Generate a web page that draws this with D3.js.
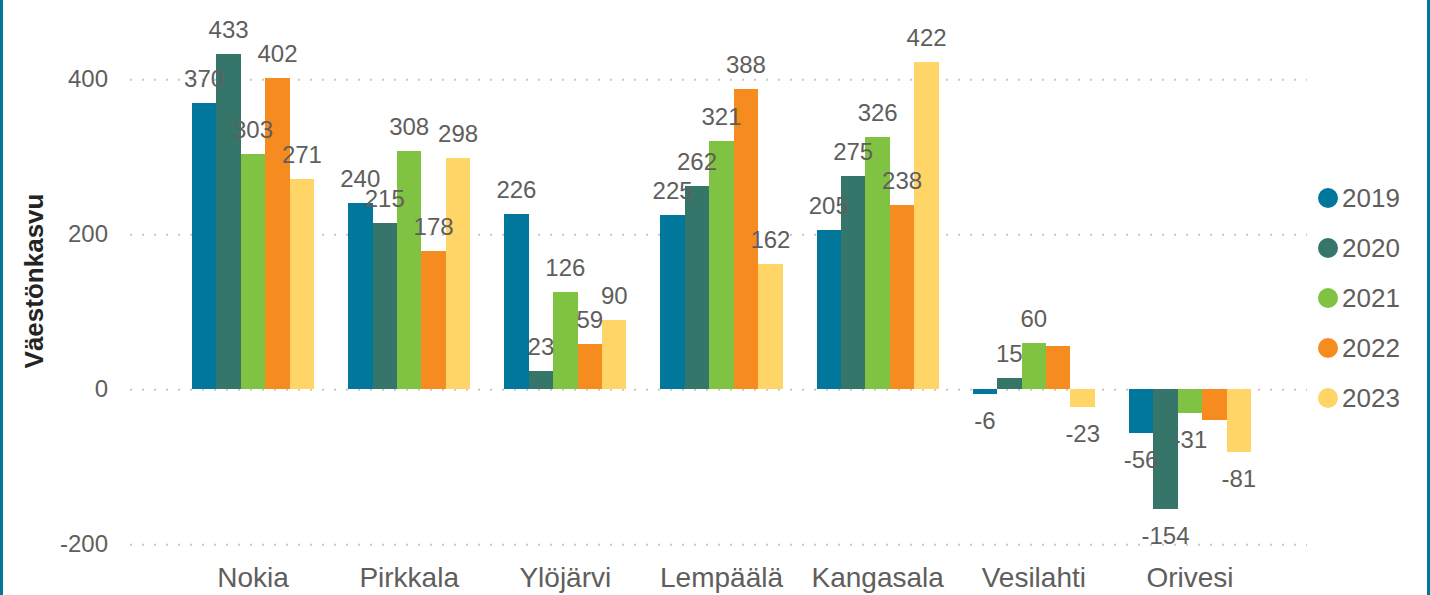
<!DOCTYPE html>
<meta charset="utf-8">
<style>
body { margin: 0; background: #fff; }
svg { display: block; font-family: "Liberation Sans", Arial, sans-serif; }
.grid line { stroke: #c8c8c8; stroke-width: 2px; stroke-dasharray: 2,10; }
.grid .domain { display: none; }
.yaxis text { font-size: 24px; fill: #605e5c; }
.xaxis text { font-size: 28px; fill: #605e5c; }
.label { font-size: 24px; fill: #605e5c; text-anchor: middle; }
.legend text { font-size: 26px; fill: #605e5c; }
.bars rect { shape-rendering: crispEdges; }
</style>
<svg width="1430" height="595"></svg>
<script src="https://d3js.org/d3.v7.min.js"></script>
<script>

// data
var categories = ["Nokia", "Pirkkala", "Ylöjärvi", "Lempäälä", "Kangasala", "Vesilahti", "Orivesi"];
var years = ["2019", "2020", "2021", "2022", "2023"];
var v2019 = [370, 240, 226, 225, 205, -6, -56];
var v2020 = [433, 215, 23, 262, 275, 15, -154];
var v2021 = [303, 308, 126, 321, 326, 60, -31];
var v2022 = [402, 178, 59, 388, 238, 56, -40];
var v2023 = [271, 298, 90, 162, 422, -23, -81];
var yTicks = [-200, 0, 200, 400];
var colors = ["#00779b", "#35756a", "#80c242", "#f68c1f", "#ffd568"];
// labels not shown in the original (overlap)
var hiddenLabels = ["Vesilahti|2022", "Orivesi|2022"];

var series = [v2019, v2020, v2021, v2022, v2023];

var svg = d3.select("svg"),
    width = +svg.attr("width"),
    height = +svg.attr("height");

var gridLeft = 130, gridRight = 1307;

var x = d3.scaleBand()
    .domain(categories)
    .range([158, 1285])
    .paddingInner(0.217)
    .paddingOuter(0.217);

var x1 = d3.scaleBand()
    .domain(years)
    .range([0, x.bandwidth()]);

var y = d3.scaleLinear()
    .domain([-200, 400])
    .range([544.3, 79.3]);

var color = d3.scaleOrdinal().domain(years).range(colors);

// frame strips left / right
svg.append("rect").attr("x", 0).attr("y", 0).attr("width", 3).attr("height", height).attr("fill", "#00779b");
svg.append("rect").attr("x", width - 3).attr("y", 0).attr("width", 3).attr("height", height).attr("fill", "#00779b");

// gridlines
svg.append("g")
    .attr("class", "grid")
    .attr("transform", "translate(" + gridLeft + ",0)")
    .call(d3.axisLeft(y).tickValues(yTicks).tickSize(-(gridRight - gridLeft)).tickFormat(""));

// y tick labels
var yAxis = svg.append("g")
    .attr("class", "yaxis")
    .attr("transform", "translate(" + gridLeft + ",0)")
    .call(d3.axisLeft(y).tickValues(yTicks).tickSize(0).tickPadding(22).tickFormat(function(d) { return String(d); }));
yAxis.select(".domain").remove();
yAxis.selectAll("text").attr("font-family", null).attr("font-size", null);

// x labels
var xAxis = svg.append("g")
    .attr("class", "xaxis")
    .attr("transform", "translate(0,544)")
    .call(d3.axisBottom(x).tickSize(0).tickPadding(23));
xAxis.select(".domain").remove();
xAxis.selectAll("text").attr("font-family", null).attr("font-size", null);

// rows: one per category/year
var rows = [];
categories.forEach(function(c, i) {
  years.forEach(function(yr, j) {
    rows.push({cat: c, year: yr, value: series[j][i]});
  });
});

svg.append("g")
    .attr("class", "bars")
  .selectAll("rect")
  .data(rows)
  .enter().append("rect")
    .attr("x", function(d) { return x(d.cat) + x1(d.year); })
    .attr("y", function(d) { return y(Math.max(0, d.value)); })
    .attr("width", x1.bandwidth())
    .attr("height", function(d) { return Math.abs(y(d.value) - y(0)); })
    .attr("fill", function(d) { return color(d.year); });

svg.append("g").selectAll("text")
  .data(rows.filter(function(d) { return hiddenLabels.indexOf(d.cat + "|" + d.year) < 0; }))
  .enter().append("text")
    .attr("class", "label")
    .attr("x", function(d) { return x(d.cat) + x1(d.year) + x1.bandwidth() / 2; })
    .attr("y", function(d) { return d.value >= 0 ? y(d.value) - 16 : y(d.value) + 35; })
    .text(function(d) { return d.value; });

// y title
svg.append("text")
    .attr("transform", "translate(43,281) rotate(-90)")
    .attr("text-anchor", "middle")
    .attr("font-size", 26)
    .attr("font-weight", "bold")
    .attr("fill", "#252423")
    .text("Väestönkasvu");

// legend
var legend = svg.append("g")
    .attr("class", "legend")
  .selectAll("g")
  .data(years)
  .enter().append("g")
    .attr("transform", function(d, i) { return "translate(1328," + (198 + i * 50) + ")"; });

legend.append("circle")
    .attr("r", 10)
    .attr("fill", function(d) { return color(d); });

legend.append("text")
    .attr("x", 14)
    .attr("dy", "0.35em")
    .text(function(d) { return d; });

</script>
